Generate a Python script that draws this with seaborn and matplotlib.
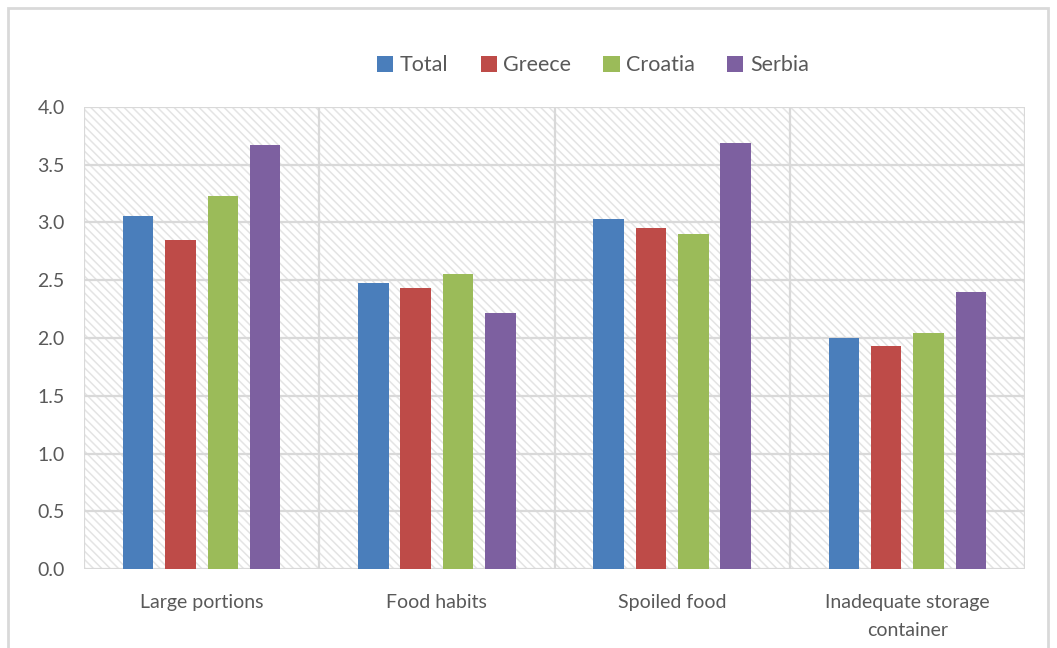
import pandas as pd
import matplotlib.pyplot as plt
import seaborn as sns
from matplotlib.patches import Rectangle

# Datos
categorias = ["Large portions", "Food habits", "Spoiled food", "Inadequate storage\ncontainer"]
series = ["Total", "Greece", "Croatia", "Serbia"]
total = [3.06, 2.48, 3.03, 2.00]
greece = [2.85, 2.43, 2.95, 1.93]
croatia = [3.23, 2.55, 2.90, 2.04]
serbia = [3.67, 2.22, 3.69, 2.40]
colores = ["#4a7ebb", "#be4b48", "#9bbb59", "#7d60a0"]

df = pd.DataFrame({"Categoria": categorias, "Total": total, "Greece": greece,
                   "Croatia": croatia, "Serbia": serbia})
df_largo = df.melt(id_vars="Categoria", var_name="Serie", value_name="Valor")

sns.set_style("white")
plt.rcParams["font.family"] = ["Lato", "DejaVu Sans"]
plt.rcParams["hatch.linewidth"] = 1.1

fig = plt.figure(figsize=(10.57, 6.48), dpi=100)
ax = fig.add_axes([0.0795, 0.1219, 0.8902, 0.713])

# fondo rayado
fondo = Rectangle((0, 0), 1, 1, transform=ax.transAxes, facecolor="white",
                  edgecolor="#e4e4e4", linewidth=0, hatch="\\" * 4, zorder=0.1)
ax.add_patch(fondo)

sns.barplot(data=df_largo, x="Categoria", y="Valor", hue="Serie", order=categorias,
            hue_order=series, palette=colores, width=0.72, gap=0.28, saturation=1,
            linewidth=0, ax=ax, zorder=3)

ax.set_ylim(0, 4.0)
ax.set_xlim(-0.5, 3.5)
ax.set_yticks([0, 0.5, 1.0, 1.5, 2.0, 2.5, 3.0, 3.5, 4.0])
ax.set_yticklabels([f"{v:.1f}" for v in ax.get_yticks()])
for y in ax.get_yticks():
    ax.axhline(y, color="#d9d9d9", lw=1.6, zorder=1)
for x in [-0.5, 0.5, 1.5, 2.5, 3.5]:
    ax.axvline(x, color="#d9d9d9", lw=1.6, zorder=1)

for s in ax.spines.values():
    s.set_visible(False)
ax.tick_params(axis="both", length=0, labelsize=14, labelcolor="#595959")
ax.tick_params(axis="x", pad=18)
ax.tick_params(axis="y", pad=14)
for t in ax.get_xticklabels():
    t.set_linespacing(1.75)
ax.set_xlabel("")
ax.set_ylabel("")

handles, labels = ax.get_legend_handles_labels()
fig.legend(handles, labels, loc="center", bbox_to_anchor=(0.561, 0.899), ncol=4,
           frameon=False, fontsize=15.5, handlelength=0.75, handleheight=0.75,
           handletextpad=0.3, columnspacing=1.5, labelcolor="#595959")
ax.get_legend().remove()

# borde exterior
fig.patches.append(Rectangle((8 / 1057, -0.01), 1040 / 1057, 1 - 8 / 648 + 0.01,
                             transform=fig.transFigure, fill=False,
                             edgecolor="#d9d9d9", lw=2))

plt.savefig("out.png", dpi=100)
